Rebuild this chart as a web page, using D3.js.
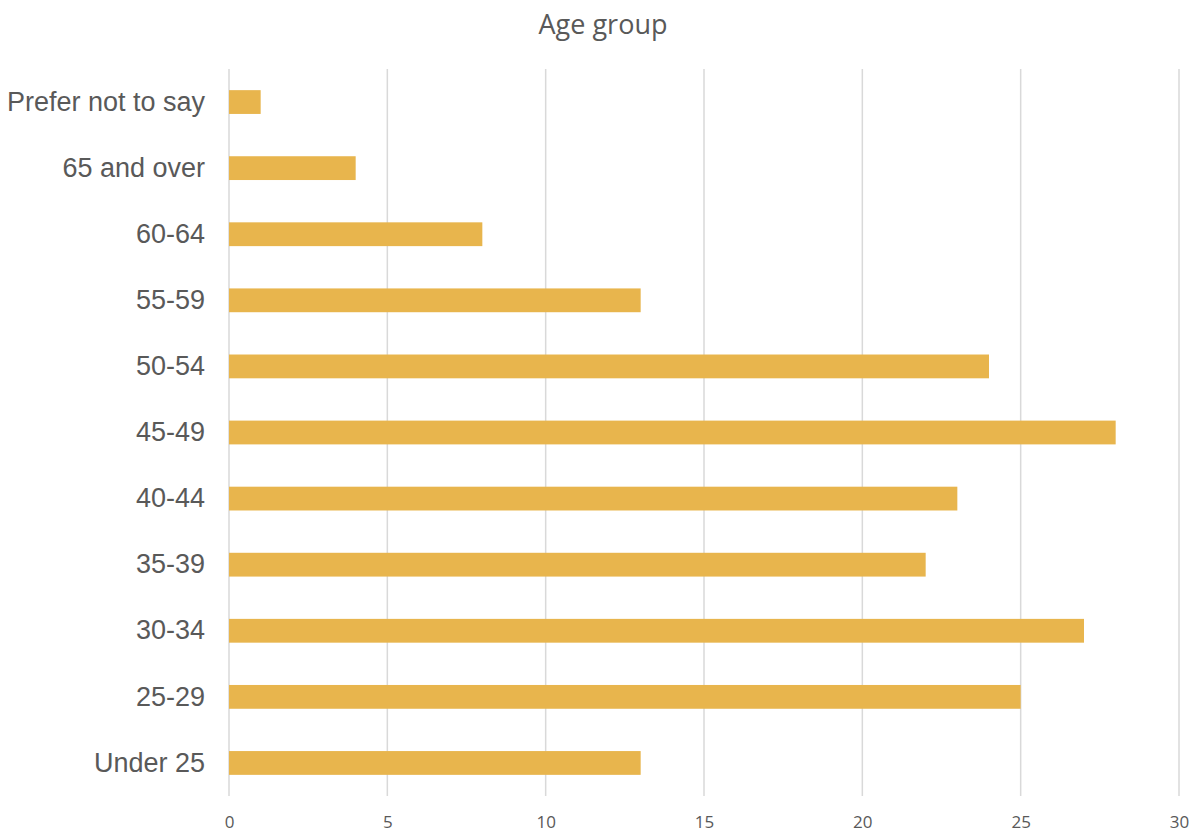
<!DOCTYPE html>
<html>
<head>
<meta charset="utf-8">
<script src="https://cdn.jsdelivr.net/npm/d3@7"></script>
<style>
  html, body { margin: 0; padding: 0; background: #fff; }
  svg { display: block; }
</style>
</head>
<body>
<svg id="chart" width="1197" height="833"></svg>
<script>
// Respondents by age group
const categories = ["Prefer not to say", "65 and over", "60-64", "55-59", "50-54", "45-49", "40-44", "35-39", "30-34", "25-29", "Under 25"];
const counts = [1, 4, 8, 13, 24, 28, 23, 22, 27, 25, 13];
const tickValues = [0, 5, 10, 15, 20, 25, 30];
const chartTitle = "Age group";

const svg = d3.select("#chart");
const margin = { top: 69, right: 18, bottom: 37, left: 229 };
const width = 1197, height = 833;

const x = d3.scaleLinear()
  .domain([0, 30])
  .range([margin.left, width - margin.right]);

const y = d3.scaleBand()
  .domain(categories)
  .range([margin.top, height - margin.bottom])
  .paddingInner(0.64)
  .paddingOuter(0.32);

// vertical gridlines
svg.append("g")
  .selectAll("line")
  .data(tickValues)
  .join("line")
  .attr("x1", d => x(d)).attr("x2", d => x(d))
  .attr("y1", margin.top).attr("y2", height - margin.bottom)
  .attr("stroke", "#d9d9d9")
  .attr("stroke-width", 1.5);

// bars
svg.append("g")
  .selectAll("rect")
  .data(categories.map((c, i) => ({ c, v: counts[i] })))
  .join("rect")
  .attr("x", x(0))
  .attr("y", d => y(d.c))
  .attr("width", d => x(d.v) - x(0))
  .attr("height", y.bandwidth())
  .attr("fill", "#e8b54d");

// x axis tick labels
const xAxis = d3.axisBottom(x).tickValues(tickValues).tickSize(0).tickPadding(0);
const gx = svg.append("g")
  .attr("transform", `translate(0, ${height - 11})`)
  .call(xAxis);
gx.select(".domain").remove();
gx.selectAll("text")
  .attr("dy", "0.35em")
  .attr("y", 0)
  .attr("fill", "#595959")
  .style("font-family", "'Open Sans', 'Liberation Sans', sans-serif")
  .style("font-size", "17px");

// y axis category labels
const yAxis = d3.axisLeft(y).tickSize(0).tickPadding(24);
const gy = svg.append("g")
  .attr("transform", `translate(${margin.left}, 0)`)
  .call(yAxis);
gy.select(".domain").remove();
gy.selectAll("text")
  .attr("fill", "#595959")
  .style("font-family", "'Liberation Sans', Arial, sans-serif")
  .style("font-size", "27px");

// title
svg.append("text")
  .attr("x", 603)
  .attr("y", 25)
  .attr("dy", "0.35em")
  .attr("text-anchor", "middle")
  .attr("fill", "#595959")
  .style("font-family", "'Liberation Sans Narrow', 'Open Sans', sans-serif")
  .style("font-size", "27px")
  .text(chartTitle);
</script>
</body>
</html>
